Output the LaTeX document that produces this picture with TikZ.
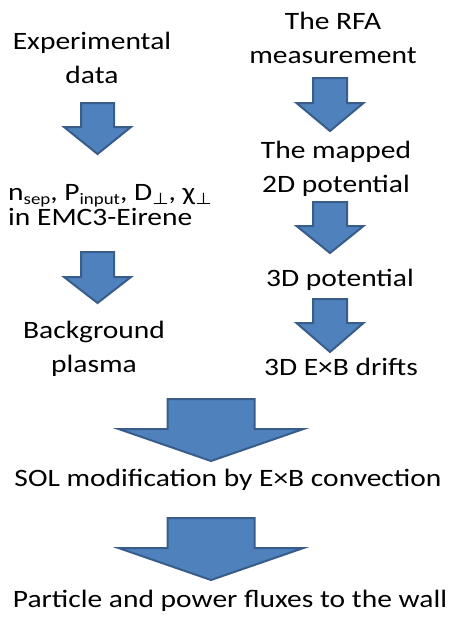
\documentclass[tikz,border=0pt]{standalone}
\usepackage{fontspec}
\setmainfont{Carlito}[FakeStretch=1.18]
\newfontfamily\symbolfont{DejaVu Sans}[FakeStretch=1.18]

\definecolor{arrowblue}{HTML}{4F81BD}
\definecolor{arrowedge}{HTML}{385D8A}

\newcommand\lowtext[1]{\raisebox{-4pt}{\fontsize{16}{16}\selectfont #1}}

\tikzset{
  steptext/.style={anchor=base, inner sep=0pt, align=center, font=\fontsize{25}{34}\selectfont},
  blockarrow/.style={fill=arrowblue, draw=arrowedge, line width=2pt, line join=miter}
}

% block arrow: x, top, tip, shaft half width, head half width, shaft length
\newcommand\flowarrow[6]{%
  \draw [blockarrow] (#1,#2) ++(-#4,0) -- ++(2*#4,0) -- ++(0,#6) -- ++(#5-#4,0)
    -- (#1,#3) -- ++(-#5,#2+#6-#3) -- ++(#5-#4,0) -- cycle;}

\begin{document}
\begin{tikzpicture}[x=1pt,y=-1pt]

\path [use as bounding box] (0,0) rectangle (452,624);

% LEFT BRANCH (base = last line)
\node [steptext] (expdata) at (92,83) {Experimental\\data};
\node [steptext, anchor=base west, align=left, font=\fontsize{25}{25}\selectfont] (emc) at (8,225)
  {n\lowtext{sep}, P\lowtext{input}, D\lowtext{\symbolfont ⊥}, χ\lowtext{\symbolfont ⊥}\\in EMC3-Eirene};
\node [steptext] (plasma) at (94,372) {Background\\plasma};

% RIGHT BRANCH
\node [steptext] (rfa) at (333,63) {The RFA\\measurement};
\node [steptext] (map2d) at (336,192) {The mapped\\2D potential};
\node [steptext] (pot3d) at (340,286) {3D potential};
\node [steptext] (drift) at (341,375) {3D E×B drifts};

% RESULTS
\node [steptext] (sol) at (228,486) {SOL modification by E×B convection};
\node [steptext] (wall) at (230,607) {Particle and power fluxes to the wall};

% ARROWS
\flowarrow{97.5}{103}{154}{16.5}{33.5}{24}
\flowarrow{97.5}{252}{303}{16.5}{33.5}{25}
\flowarrow{330}{78}{131}{17}{33.5}{25}
\flowarrow{330}{202}{253}{17}{33.5}{24}
\flowarrow{330}{299}{352}{17}{33.5}{24}
\flowarrow{211}{399}{461}{43.5}{92.5}{30}
\flowarrow{211}{518}{580}{43.5}{92.5}{30}

\end{tikzpicture}
\end{document}
